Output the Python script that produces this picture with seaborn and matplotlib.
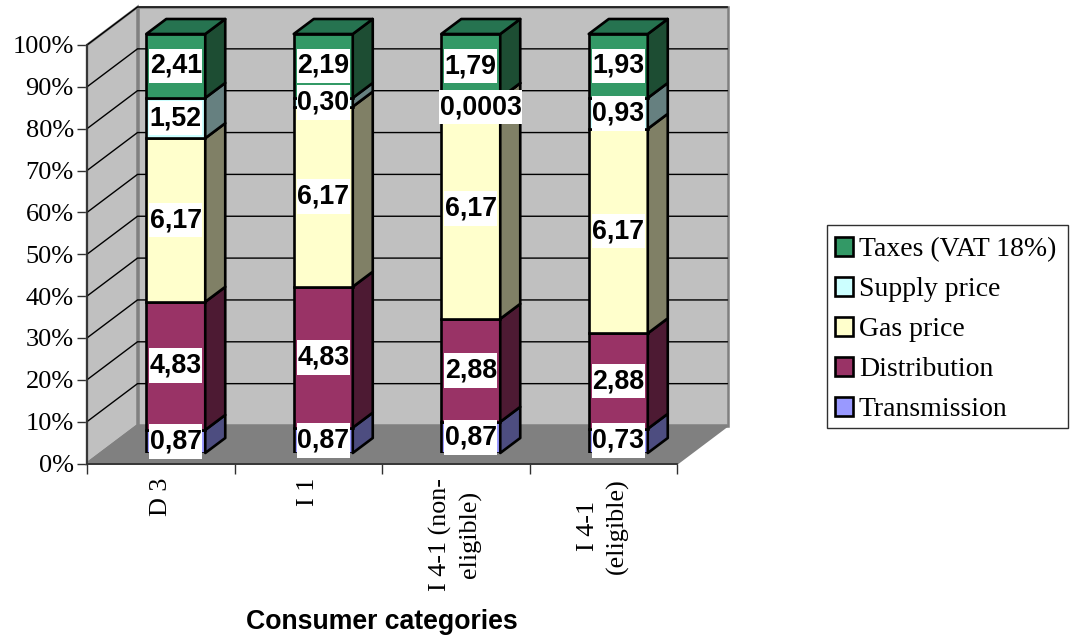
import matplotlib
matplotlib.use("Agg")
import matplotlib.pyplot as plt
from matplotlib.patches import Patch, Polygon, Rectangle
from matplotlib.path import Path
import numpy as np
import pandas as pd
import seaborn as sns

categories = ["D 3", "I 1", "I 4-1 (non-\neligible)", "I 4-1\n(eligible)"]
series_names = ["Transmission", "Distribution", "Gas price", "Supply price", "Taxes (VAT 18%)"]
transmission = [0.87, 0.87, 0.87, 0.73]
distribution = [4.83, 4.83, 2.88, 2.88]
gas_price = [6.17, 6.17, 6.17, 6.17]
supply_price = [1.52, 0.30, 0.0003, 0.93]
taxes = [2.41, 2.19, 1.79, 1.93]
value_labels = [
    ["0,87", "0,87", "0,87", "0,73"],
    ["4,83", "4,83", "2,88", "2,88"],
    ["6,17", "6,17", "6,17", "6,17"],
    ["1,52", "0,30", "0,0003", "0,93"],
    ["2,41", "2,19", "1,79", "1,93"],
]
front_colors = ["#9999ff", "#993366", "#ffffcc", "#ccffff", "#339966"]
side_colors = ["#4d4d80", "#4d1a33", "#808066", "#668080", "#1d4d33"]
top_color = "#267350"

W, H = 1071, 636
SERIF = "Liberation Serif"
SANS = "Liberation Sans"

sns.set_theme(style="white")
plt.rcParams["font.family"] = [SERIF, "DejaVu Sans"]

fig = plt.figure(figsize=(W / 100, H / 100), dpi=100, facecolor="white")


def axes_at(left, right, top, bottom):
    return fig.add_axes([left / W, 1 - bottom / H, (right - left) / W, (bottom - top) / H])


def plate(x0, y0, width, height, mutation_size):
    """Rectangular label plate, tighter across than it is tall."""
    px, py = 0.02 * mutation_size, 0.165 * mutation_size
    left, right = x0 - px, x0 + width + px
    low, high = y0 - py, y0 + height + py
    return Path([(left, low), (right, low), (right, high), (left, high), (left, low)], closed=True)


# Front plane of the chart box, and the plane holding the bar faces just behind it
ax = axes_at(87, 677, 45, 463.5)
bars_ax = axes_at(87 + 15, 677 + 15, 34, 453)
for a in (ax, bars_ax):
    a.set_xlim(-0.5, 3.5)
    a.set_ylim(0, 100)
    a.patch.set_visible(False)
bars_ax.set_zorder(2)

# Depth of the box and of each bar, in data units
BOX_DX, BOX_DY = 50.5 / 147.5, 38 / 4.185
BAR_DX, BAR_DY = 20 / 147.5, 15 / 4.19
OUTLINE = 1.9

# Walls and floor
back = [(-0.5 + BOX_DX, BOX_DY), (3.5 + BOX_DX, BOX_DY), (3.5 + BOX_DX, 100 + BOX_DY), (-0.5 + BOX_DX, 100 + BOX_DY)]
left_wall = [(-0.5, 0), (-0.5 + BOX_DX, BOX_DY), (-0.5 + BOX_DX, 100 + BOX_DY), (-0.5, 100)]
floor = [(-0.5, 0), (3.5, 0), (3.5 + BOX_DX, BOX_DY), (-0.5 + BOX_DX, BOX_DY)]
for pts, face in ((back, "#c0c0c0"), (left_wall, "#c0c0c0"), (floor, "#808080")):
    ax.add_patch(Polygon(pts, closed=True, facecolor=face, edgecolor="#808080", lw=1.8,
                         clip_on=False, zorder=1, joinstyle="miter"))
for tick in range(10, 101, 10):
    ax.plot([-0.5, -0.5 + BOX_DX, 3.5 + BOX_DX], [tick, tick + BOX_DY, tick + BOX_DY],
            color="black", lw=1.0, clip_on=False, zorder=1.5, solid_joinstyle="miter")

# Axis furniture on the front plane
sns.despine(ax=ax, top=True, right=True)
for side in ("left", "bottom"):
    ax.spines[side].set_color("#303030")
    ax.spines[side].set_linewidth(1.3)
    ax.spines[side].set_zorder(3)
ax.set_yticks(range(0, 101, 10))
ax.set_yticklabels([f"{t}%" for t in range(0, 101, 10)], fontsize=19, family=SERIF, color="black")
ax.set_xticks(np.arange(-0.5, 3.6, 1))
ax.set_xticklabels([])
ax.set_xticks(range(4), minor=True)
ax.set_xticklabels(categories, minor=True, rotation=90, fontsize=18.8, family=SERIF,
                   color="black", va="top", ha="center", linespacing=1.4)
for label in ax.get_xticklabels(minor=True):
    label.set_multialignment("center")
ax.tick_params(axis="y", which="major", left=True, length=7, width=1, color="#303030", pad=2.5)
ax.tick_params(axis="x", which="major", bottom=True, length=7.5, width=1, color="#303030")
ax.tick_params(axis="x", which="minor", bottom=False, length=0, pad=10.5)
ax.set_xlabel("Consumer categories", family=SANS, fontweight="bold", fontsize=19.2, color="black")
ax.xaxis.set_label_coords(0.5, -0.347)

# Stacked 100% columns
table = np.array([transmission, distribution, gas_price, supply_price, taxes])
shares = table / table.sum(axis=0) * 100
bottoms = np.vstack([np.zeros(4), np.cumsum(shares, axis=0)[:-1]])
half = 0.2

for s, name in enumerate(series_names):
    frame = pd.DataFrame({"category": categories, "share": shares[s]})
    sns.barplot(data=frame, x="category", y="share", bottom=bottoms[s], width=2 * half,
                color=front_colors[s], saturation=1, edgecolor="black", linewidth=OUTLINE,
                ax=bars_ax, zorder=3, errorbar=None)
    for i in range(4):
        y0, y1 = bottoms[s][i], bottoms[s][i] + shares[s][i]
        x1 = i + half
        side = [(x1, y0), (x1 + BAR_DX, y0 + BAR_DY), (x1 + BAR_DX, y1 + BAR_DY), (x1, y1)]
        bars_ax.add_patch(Polygon(side, closed=True, facecolor=side_colors[s], edgecolor="black",
                                  lw=OUTLINE, clip_on=False, zorder=3, joinstyle="round"))

for i in range(4):
    x0, x1 = i - half, i + half
    cap = [(x0, 100), (x1, 100), (x1 + BAR_DX, 100 + BAR_DY), (x0 + BAR_DX, 100 + BAR_DY)]
    bars_ax.add_patch(Polygon(cap, closed=True, facecolor=top_color, edgecolor="black",
                              lw=OUTLINE, clip_on=False, zorder=3, joinstyle="round"))

bars_ax.set_xlim(-0.5, 3.5)
bars_ax.set_ylim(0, 100)
bars_ax.axis("off")

# Value labels on white plates; the near-zero supply label sits clear of its sliver of a segment
for s in range(5):
    for i in range(4):
        nudge_x, nudge_y = (10 / 147.5, -9 / 4.19) if value_labels[s][i] == "0,0003" else (0, 0)
        bars_ax.text(i + nudge_x, bottoms[s][i] + shares[s][i] / 2 + nudge_y, value_labels[s][i],
                     family=SANS, fontweight="bold", fontsize=19.3, color="black",
                     ha="center", va="center", zorder=5 + s, clip_on=False,
                     bbox=dict(facecolor="white", edgecolor="none", boxstyle=plate))

# Legend box and entries, top entry first
fig.add_artist(Rectangle((827 / W, 1 - 428 / H), (1068 - 827) / W, (428 - 225) / H,
                         transform=fig.transFigure, facecolor="white", edgecolor="#303030",
                         lw=1.0, zorder=1))
handles = [Patch(facecolor=front_colors[s], edgecolor="black", linewidth=OUTLINE, label=series_names[s])
           for s in reversed(range(5))]
leg = fig.legend(handles=handles, loc="upper left", bbox_to_anchor=(827 / W, 1 - 229 / H),
                 bbox_transform=fig.transFigure, prop=dict(family=SERIF, size=20),
                 frameon=False, handlelength=0.65, handleheight=0.65, handletextpad=0.2,
                 labelspacing=0.536, borderpad=0.3, borderaxespad=0)
leg.set_zorder(2)
for t in leg.get_texts():
    t.set_color("black")

fig.savefig("out.png", dpi=100)
